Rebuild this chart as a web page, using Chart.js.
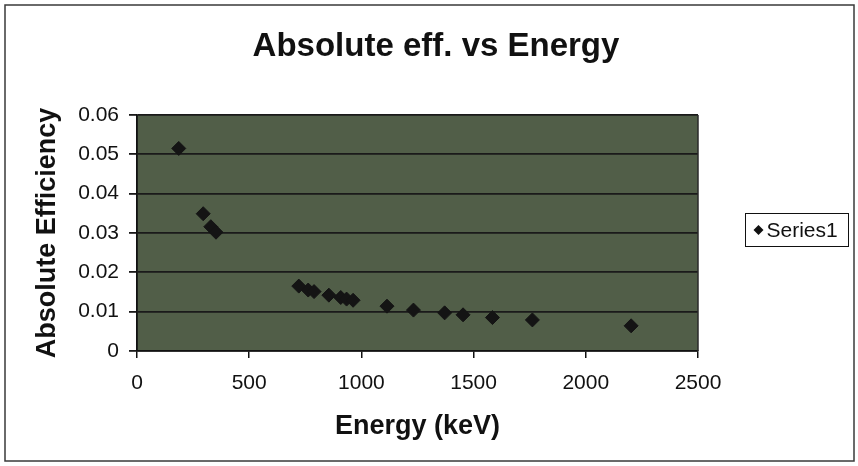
<!DOCTYPE html>
<html>
<head>
<meta charset="utf-8">
<script src="https://cdn.jsdelivr.net/npm/chart.js@4/dist/chart.umd.min.js"></script>
<style>
  html, body { margin: 0; padding: 0; background: #ffffff; }
  #wrap { width: 858px; height: 466px; position: relative; }
</style>
</head>
<body>
<div id="wrap"><canvas id="c" width="858" height="466"></canvas></div>
<script>
// Measured detector efficiency at each gamma line
const energyKeV = [186, 295, 329, 352, 721, 763, 789, 855, 908, 934, 963, 1114, 1232, 1371, 1453, 1584, 1762, 2202];
const absEfficiency = [0.0515, 0.0349, 0.0316, 0.0302, 0.0165, 0.0155, 0.0151, 0.0142, 0.0136, 0.0132, 0.0129, 0.0114, 0.0104, 0.0097, 0.0092, 0.0085, 0.0079, 0.0064];

const xTickLabels = ['0', '500', '1000', '1500', '2000', '2500'];
const yTickLabels = ['0', '0.01', '0.02', '0.03', '0.04', '0.05', '0.06'];

const chartTitle = 'Absolute eff. vs Energy';
const xAxisTitle = 'Energy (keV)';
const yAxisTitle = 'Absolute Efficiency';
const seriesName = 'Series1';

const FONT = '"Liberation Sans", Arial, Helvetica, sans-serif';
const PLOT_BG = '#515e48';

const points = energyKeV.map((e, i) => ({ x: e, y: absEfficiency[i] }));

// Page frame, plot background, titles and legend box
const decorations = {
  id: 'decorations',
  beforeDraw(chart) {
    const { ctx, chartArea: a } = chart;
    ctx.save();
    ctx.fillStyle = '#ffffff';
    ctx.fillRect(0, 0, chart.width, chart.height);
    ctx.fillStyle = PLOT_BG;
    ctx.fillRect(a.left, a.top, a.right - a.left, a.bottom - a.top);
    ctx.restore();
  },
  afterDraw(chart) {
    const { ctx, chartArea: a } = chart;
    ctx.save();
    // outer frame
    ctx.strokeStyle = '#3a3a3a';
    ctx.lineWidth = 1.5;
    ctx.strokeRect(5, 5, 849, 456);
    // right edge of plot
    ctx.strokeStyle = '#2a2a2a';
    ctx.lineWidth = 1.5;
    ctx.beginPath();
    ctx.moveTo(a.right, a.top);
    ctx.lineTo(a.right, a.bottom);
    ctx.stroke();

    ctx.fillStyle = '#111111';
    // chart title
    ctx.font = 'bold 33px ' + FONT;
    ctx.textAlign = 'center';
    ctx.textBaseline = 'alphabetic';
    ctx.fillText(chartTitle, 436, 56);
    // x axis title
    ctx.font = 'bold 27px ' + FONT;
    ctx.textBaseline = 'middle';
    ctx.fillText(xAxisTitle, (a.left + a.right) / 2, 427);
    // y axis title
    ctx.save();
    ctx.translate(48, (a.top + a.bottom) / 2);
    ctx.rotate(-Math.PI / 2);
    ctx.fillText(yAxisTitle, 0, 0);
    ctx.restore();

    // legend
    const lx = 745.5, ly = 213.5, lw = 103, lh = 33;
    ctx.strokeStyle = '#111111';
    ctx.lineWidth = 1;
    ctx.strokeRect(lx, ly, lw, lh);
    const cx = lx + 13, cy = ly + lh / 2;
    const r = 5;
    ctx.beginPath();
    ctx.moveTo(cx, cy - r);
    ctx.lineTo(cx + r, cy);
    ctx.lineTo(cx, cy + r);
    ctx.lineTo(cx - r, cy);
    ctx.closePath();
    ctx.fill();
    ctx.font = '21px ' + FONT;
    ctx.textAlign = 'left';
    ctx.fillText(chart.data.datasets[0].label, lx + 21, cy + 1);
    ctx.restore();
  }
};

new Chart(document.getElementById('c'), {
  type: 'scatter',
  data: {
    datasets: [{
      label: seriesName,
      data: points,
      pointStyle: 'rectRot',
      pointRadius: 7,
      pointHoverRadius: 7,
      backgroundColor: '#141414',
      borderColor: '#141414',
      borderWidth: 1
    }]
  },
  options: {
    responsive: false,
    animation: false,
    devicePixelRatio: 1,
    layout: { padding: { left: 0, top: 115, right: 160, bottom: 0 } },
    plugins: {
      legend: { display: false },
      title: { display: false },
      tooltip: { enabled: false }
    },
    scales: {
      x: {
        type: 'linear',
        min: 0,
        max: 2500,
        afterFit(scale) { scale.height = 115; },
        afterBuildTicks(scale) {
          scale.ticks = xTickLabels.map(t => ({ value: Number(t) }));
        },
        ticks: {
          color: '#111111',
          font: { family: FONT, size: 21 },
          padding: 13,
          maxRotation: 0,
          callback: (v, i) => xTickLabels[i]
        },
        grid: {
          display: true,
          drawOnChartArea: false,
          drawTicks: true,
          tickLength: 7,
          color: '#111111',
          lineWidth: 1.5
        },
        border: { display: true, color: '#111111', width: 1.5 }
      },
      y: {
        type: 'linear',
        min: 0,
        max: 0.06,
        afterFit(scale) { scale.width = 137; },
        afterBuildTicks(scale) {
          scale.ticks = yTickLabels.map(t => ({ value: Number(t) }));
        },
        ticks: {
          color: '#111111',
          font: { family: FONT, size: 21 },
          padding: 10,
          callback: (v, i) => yTickLabels[i]
        },
        grid: {
          display: true,
          drawOnChartArea: true,
          drawTicks: true,
          tickLength: 8,
          color: '#1a1a1a',
          lineWidth: 1.8
        },
        border: { display: true, color: '#111111', width: 1.8 }
      }
    }
  },
  plugins: [decorations]
});
</script>
</body>
</html>
